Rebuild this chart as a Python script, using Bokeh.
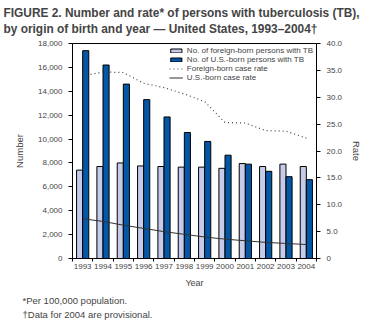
from bokeh.plotting import figure
from bokeh.models import (Range1d, LinearAxis, FixedTicker, Legend, LegendItem, Title,
                          NumeralTickFormatter, ColumnDataSource)
from bokeh.embed import file_html
from bokeh.resources import INLINE

years = [1993, 1994, 1995, 1996, 1997, 1998, 1999, 2000, 2001, 2002, 2003, 2004]
foreign_count = [7400, 7700, 8000, 7750, 7700, 7650, 7650, 7550, 7950, 7700, 7900, 7700]
us_count = [17400, 16200, 14600, 13300, 11850, 10550, 9800, 8650, 7900, 7300, 6850, 6600]
foreign_rate = [34.0, 34.7, 34.6, 32.6, 31.8, 30.6, 29.2, 25.3, 25.2, 23.8, 23.7, 22.4]
us_rate = [7.4, 6.9, 6.2, 5.6, 5.0, 4.5, 4.0, 3.6, 3.3, 3.0, 2.8, 2.6]
legend_labels = ["No. of foreign-born persons with TB", "No. of U.S.-born persons with TB",
                 "Foreign-born case rate", "U.S.-born case rate"]
title_lines = ["FIGURE 2. Number and rate* of persons with tuberculosis (TB),",
               "by origin of birth and year \u2014 United States, 1993\u20132004\u2020"]
footnotes = ["*Per 100,000 population.", "\u2020Data for 2004 are provisional."]

FONT = "Liberation Sans"
FL, FR, FT, FB = 72, 53, 43, 69

p = figure(width=369, height=327, output_backend="svg", toolbar_location=None,
           x_range=Range1d(years[0] - 0.5, years[-1] + 0.5), y_range=Range1d(0, 18000),
           min_border_left=FL, min_border_right=FR, min_border_top=FT, min_border_bottom=FB)
p.extra_y_ranges = {"rate": Range1d(0, 40)}
p.xgrid.visible = False
p.ygrid.visible = False
p.outline_line_color = "black"
p.outline_line_width = 1
p.background_fill_color = "white"
p.border_fill_color = "white"

src = ColumnDataSource(dict(year=years, fc=foreign_count, uc=us_count, fr=foreign_rate, ur=us_rate,
                            xf=[y - 0.15 for y in years], xu=[y + 0.15 for y in years]))

bf = p.vbar(x="xf", top="fc", width=0.3, source=src, fill_color="#c6cbe9",
            line_color="black", line_width=1)
bu = p.vbar(x="xu", top="uc", width=0.3, source=src, fill_color="#0457a6",
            line_color="black", line_width=1)
lf = p.line(x="year", y="fr", source=src, y_range_name="rate", line_color="#444444",
            line_width=1.2, line_dash="1 3")
lu = p.line(x="year", y="ur", source=src, y_range_name="rate", line_color="#333333",
            line_width=1)

xa = p.xaxis[0]
xa.ticker = FixedTicker(ticks=years, minor_ticks=[y + 0.5 for y in [years[0] - 1] + years])
xa.major_tick_out = 0
xa.major_tick_in = 0
xa.minor_tick_out = 3
xa.minor_tick_in = 0
xa.major_label_standoff = 2
xa.major_label_text_font = FONT
xa.major_label_text_font_size = "8px"
xa.axis_label = "Year"
xa.axis_label_text_font = FONT
xa.axis_label_text_font_style = "normal"
xa.axis_label_text_font_size = "9px"
xa.axis_label_standoff = 6
xa.axis_line_color = "black"

ya = p.yaxis[0]
ya.ticker = FixedTicker(ticks=list(range(0, 18001, 2000)))
ya.formatter = NumeralTickFormatter(format="0,0")
ya.major_tick_out = 4
ya.major_tick_in = 0
ya.minor_tick_out = 0
ya.major_label_standoff = 6
ya.major_label_text_font = FONT
ya.major_label_text_font_size = "8px"
ya.axis_label = "Number"
ya.axis_label_text_font = FONT
ya.axis_label_text_font_style = "normal"
ya.axis_label_text_font_size = "9.5px"
ya.axis_label_standoff = 10

ra = LinearAxis(y_range_name="rate", ticker=FixedTicker(ticks=list(range(0, 41, 5))),
                formatter=NumeralTickFormatter(format="0.0"))
ra.major_label_overrides = {0: "0"}
ra.major_tick_out = 4
ra.major_tick_in = 0
ra.minor_tick_out = 0
ra.major_label_standoff = 6
ra.major_label_text_font = FONT
ra.major_label_text_font_size = "8px"
ra.axis_label = "Rate"
ra.axis_label_text_font = FONT
ra.axis_label_text_font_style = "normal"
ra.axis_label_text_font_size = "9.5px"
ra.axis_label_standoff = 6
p.add_layout(ra, "right")

legend = Legend(items=[LegendItem(label=legend_labels[0], renderers=[bf]),
                       LegendItem(label=legend_labels[1], renderers=[bu]),
                       LegendItem(label=legend_labels[2], renderers=[lf]),
                       LegendItem(label=legend_labels[3], renderers=[lu])],
                location="top_right", border_line_color=None, background_fill_alpha=0,
                label_text_font=FONT, label_text_font_size="8px", glyph_width=14,
                glyph_height=5, label_height=8, spacing=0, padding=2, margin=3,
                label_standoff=4)
p.add_layout(legend)

# spacer (closest to the frame), then the two-line title above it
p.add_layout(Title(text=" ", standoff=0, text_font=FONT, text_font_size="4px"), "above")
p.add_layout(Title(text="\n".join(title_lines), align="left", offset=-69, standoff=0,
                   text_font=FONT, text_font_size="11.9px", text_font_style="bold",
                   text_line_height=1.18), "above")
# footnotes below
p.add_layout(Title(text="\n".join(footnotes), align="left", offset=-50, standoff=6,
                   text_font=FONT, text_font_size="9.5px", text_font_style="normal",
                   text_line_height=1.3), "below")

open("out.html", "w").write(file_html(p, INLINE))
